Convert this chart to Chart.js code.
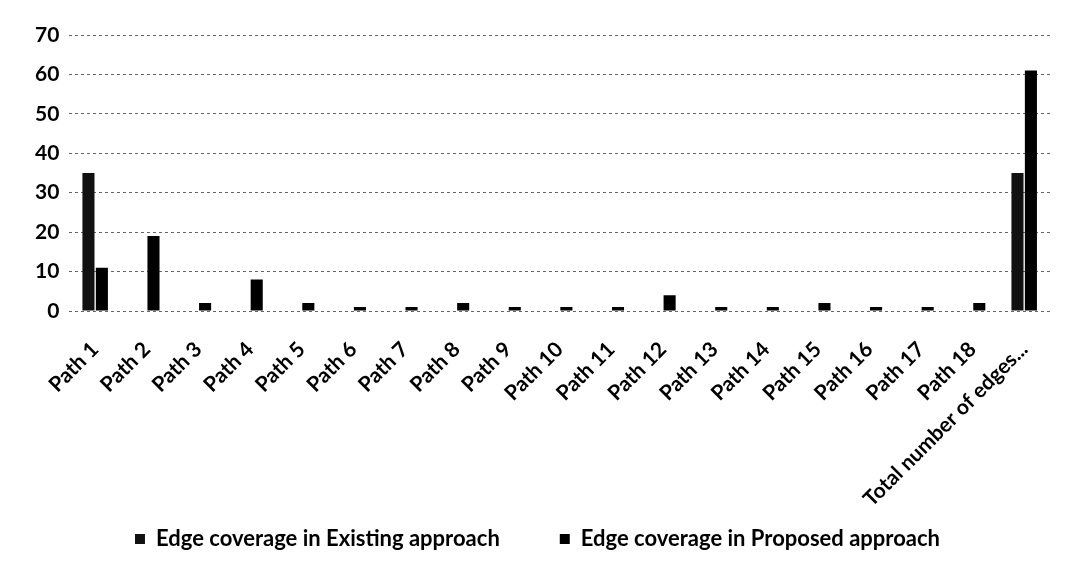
<!DOCTYPE html>
<html>
<head>
<meta charset="utf-8">
<script src="https://cdn.jsdelivr.net/npm/chart.js@4/dist/chart.umd.min.js"></script>
<style>
  html, body { margin: 0; padding: 0; background: #ffffff; }
  #wrap { width: 1067px; height: 573px; position: relative; }
</style>
</head>
<body>
<div id="wrap"><canvas id="chart" width="1067" height="573"></canvas></div>
<script>
// Categories along the x axis
const categories = [
  'Path 1', 'Path 2', 'Path 3', 'Path 4', 'Path 5', 'Path 6', 'Path 7', 'Path 8', 'Path 9',
  'Path 10', 'Path 11', 'Path 12', 'Path 13', 'Path 14', 'Path 15', 'Path 16', 'Path 17', 'Path 18',
  'Total number of edges...'
];

// Edges covered per path by each approach
const existingCoverage = [35, 0, 0, 0, 0, 0, 0, 0, 0, 0, 0, 0, 0, 0, 0, 0, 0, 0, 35];
const proposedCoverage = [11, 19, 2, 8, 2, 1, 1, 2, 1, 1, 1, 4, 1, 1, 2, 1, 1, 2, 61];

// Value axis
const yTicks = [0, 10, 20, 30, 40, 50, 60, 70];

const FONT = 'Lato, "Open Sans", sans-serif';

// Let the long rotated category labels extend below the x-axis box
// (they run into the empty band above the legend row instead of being clipped).
const unclipXLabels = {
  id: 'unclipXLabels',
  afterLayout(chart) {
    chart.scales.x.bottom = chart.height;
  }
};

new Chart(document.getElementById('chart'), {
  type: 'bar',
  data: {
    labels: categories,
    datasets: [
      {
        label: 'Edge coverage in Existing approach',
        data: existingCoverage,
        backgroundColor: '#111111',
        borderWidth: 0,
        barPercentage: 0.9,
        categoryPercentage: 0.52
      },
      {
        label: 'Edge coverage in Proposed approach',
        data: proposedCoverage,
        backgroundColor: '#000000',
        borderWidth: 0,
        barPercentage: 0.9,
        categoryPercentage: 0.52
      }
    ]
  },
  plugins: [unclipXLabels],
  options: {
    responsive: false,
    animation: false,
    layout: { padding: { left: 25, right: 17, top: 35, bottom: 13 } },
    plugins: {
      tooltip: { enabled: false },
      legend: {
        position: 'bottom',
        labels: {
          color: '#000',
          font: { family: FONT, size: 22, weight: 'bold' },
          boxWidth: 10,
          boxHeight: 10,
          padding: 60
        }
      }
    },
    scales: {
      x: {
        grid: { display: false },
        border: { display: false },
        afterFit: (axis) => { axis.height = 157; },
        ticks: {
          color: '#000',
          font: { family: FONT, size: 21, weight: 'bold' },
          maxRotation: 45,
          minRotation: 45,
          autoSkip: false,
          padding: 18
        }
      },
      y: {
        min: yTicks[0],
        max: yTicks[yTicks.length - 1],
        afterBuildTicks: (axis) => { axis.ticks = yTicks.map(v => ({ value: v })); },
        grid: {
          color: 'rgba(0,0,0,0.6)',
          lineWidth: 1,
          drawTicks: false
        },
        border: { display: false, dash: [3, 3] },
        ticks: {
          color: '#000',
          font: { family: FONT, size: 21, weight: 'bold' },
          padding: 10
        }
      }
    }
  }
});
</script>
</body>
</html>
